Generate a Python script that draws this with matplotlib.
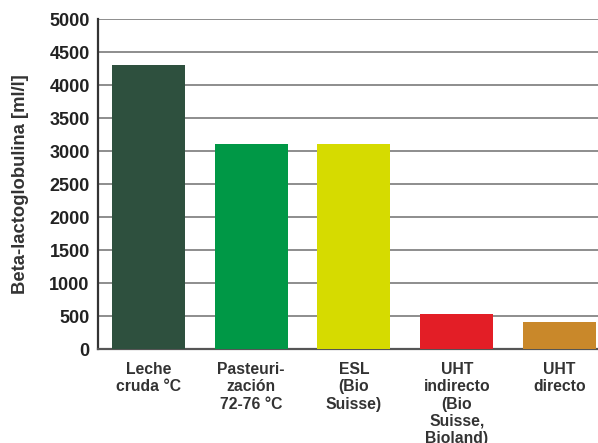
import matplotlib.pyplot as plt
import numpy as np

categories = ['Leche\ncruda °C', 'Pasteuri-\nzación\n72-76 °C', 'ESL\n(Bio\nSuisse)',
              'UHT\nindirecto\n(Bio\nSuisse,\nBioland)', 'UHT\ndirecto']
values = [4310, 3110, 3110, 535, 415]
colors = ['#2e503e', '#009846', '#d6db00', '#e31e26', '#c9882a']
yticks = [0, 500, 1000, 1500, 2000, 2500, 3000, 3500, 4000, 4500, 5000]

plt.rcParams['font.family'] = ['Liberation Sans', 'DejaVu Sans']
plt.rcParams['font.weight'] = 'bold'

fig = plt.figure(figsize=(5.98, 4.43), dpi=100)
ax = fig.add_axes([98 / 598, 1 - 349.3 / 443, 1 - 98 / 598, 330 / 443])

x = np.arange(len(categories))
ax.bar(x, values, width=0.71, color=colors, zorder=3)

ax.set_ylim(0, 5000)
ax.set_xlim(-0.49, 4.374)
ax.set_yticks(yticks)
ax.set_yticklabels([str(t) for t in yticks], fontsize=13, fontweight='bold', color='#222222')
ax.set_xticks(x)
ax.set_xticklabels(categories, fontsize=11.3, fontweight='bold', color='#333333',
                   linespacing=1.2, va='top')
ax.tick_params(axis='both', length=0)
ax.tick_params(axis='y', pad=6)
ax.tick_params(axis='x', pad=9)

ax.grid(axis='y', color='#7a7a7a', linewidth=1.2, zorder=0)
ax.set_axisbelow(True)
for s in ['top', 'right']:
    ax.spines[s].set_visible(False)
ax.spines['left'].set_color('#333333')
ax.spines['left'].set_linewidth(1.6)
ax.spines['bottom'].set_color('#555555')
ax.spines['bottom'].set_linewidth(1.6)

fig.text(21 / 598, 1 - 184.5 / 443, 'Beta-lactoglobulina [ml/l]', rotation=90,
         ha='center', va='center', fontsize=13.3, fontweight='bold', color='#333333')

fig.savefig('out.png', dpi=100)
